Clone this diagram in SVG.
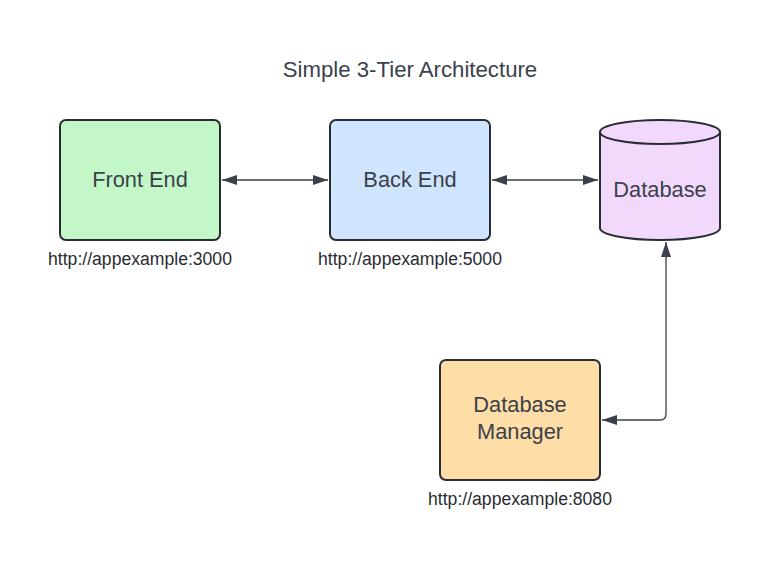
<svg xmlns="http://www.w3.org/2000/svg" width="760" height="563" viewBox="0 0 760 563">
<defs>
<style>
.box{stroke:#282c33;stroke-width:2}
.lbl{font-family:"Liberation Sans",Arial,sans-serif;font-size:21.8px;fill:#3a414a;text-anchor:middle;dominant-baseline:central}
.ttl{font-family:"Liberation Sans",Arial,sans-serif;font-size:22.2px;fill:#3a414a;text-anchor:middle;dominant-baseline:central}
.url{font-family:"Liberation Sans",Arial,sans-serif;font-size:17.6px;fill:#282c33;text-anchor:middle;dominant-baseline:central}
.con{fill:none;stroke:#3a414a;stroke-width:1.3}
</style>
<marker id="ah" viewBox="0 0 15 10" refX="15" refY="5" markerWidth="15" markerHeight="10" markerUnits="userSpaceOnUse" orient="auto-start-reverse">
<path d="M0,0 L15,5 L0,10 Z" fill="#3a414a"/>
</marker>
</defs>
<rect width="760" height="563" fill="#ffffff"/>
<text class="ttl" x="410" y="69">Simple 3-Tier Architecture</text>
<g id="connectors">
<path class="con" d="M222,180 L328,180" marker-start="url(#ah)" marker-end="url(#ah)"/>
<path class="con" d="M492,180 L598,180" marker-start="url(#ah)" marker-end="url(#ah)"/>
<path class="con" d="M666,242 L666,414 Q666,420 660,420 L602,420" marker-start="url(#ah)" marker-end="url(#ah)"/>
</g>
<g id="frontend">
<rect class="box" x="60" y="120" width="160" height="120" rx="6" fill="#c3f7c8"/>
<text class="lbl" x="140" y="179">Front End</text>
<text class="url" x="140" y="259">http://appexample:3000</text>
</g>
<g id="backend">
<rect class="box" x="330" y="120" width="160" height="120" rx="6" fill="#cfe4ff"/>
<text class="lbl" x="410" y="179">Back End</text>
<text class="url" x="410" y="259">http://appexample:5000</text>
</g>
<g id="database">
<path class="box" d="M600,132 L600,228 A60,12 0 0 0 720,228 L720,132 A60,12 0 0 0 600,132 Z" fill="#f2d9fc"/>
<path class="box" d="M600,132 A60,12 0 0 0 720,132" fill="none"/>
<text class="lbl" x="660" y="189">Database</text>
</g>
<g id="dbmanager">
<rect class="box" x="440" y="360" width="160" height="120" rx="6" fill="#ffdda6"/>
<text class="lbl" x="520" y="404">Database</text>
<text class="lbl" x="520" y="431">Manager</text>
<text class="url" x="520" y="499">http://appexample:8080</text>
</g>
</svg>
